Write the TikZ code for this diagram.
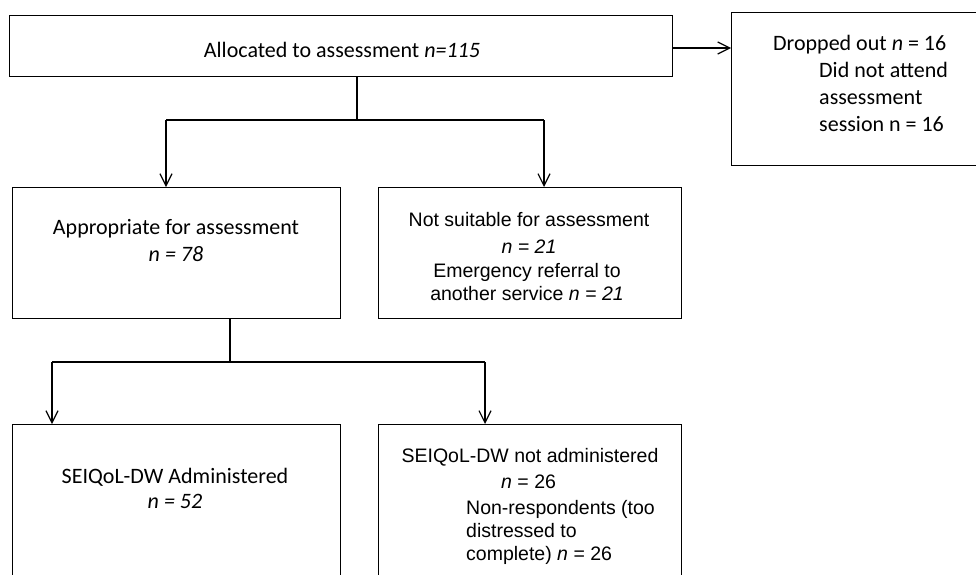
\documentclass[tikz,border=0pt]{standalone}
\usepackage{fontspec}
\setmainfont{Carlito}
\newfontfamily\arialf{Liberation Sans}
\usetikzlibrary{arrows.meta}
\begin{document}
\begin{tikzpicture}[x=1pt,y=-1pt,
  box/.style={draw, line width=1.2pt, rectangle, inner sep=0pt, anchor=north west},
  cal/.style={font=\fontsize{22}{27}\selectfont, inner sep=0pt},
  ari/.style={font=\arialf\fontsize{19.5}{24}\selectfont, inner sep=0pt},
  conn/.style={line width=1.2pt},
  arr/.style={conn, -{Straight Barb[length=12pt,width=12pt,line width=1.2pt]}}]
\useasboundingbox (0,0) rectangle (976,574);
% boxes
\node[box, minimum width=663pt, minimum height=61pt] (top) at (9,15) {};
\node[box, minimum width=250pt, minimum height=153pt] (drop) at (731,12) {};
\node[box, minimum width=328pt, minimum height=131pt] (appr) at (12,187) {};
\node[box, minimum width=303pt, minimum height=131pt] (nots) at (378,187) {};
\node[box, minimum width=328pt, minimum height=160pt] (adm) at (12,424) {};
\node[box, minimum width=303pt, minimum height=160pt] (nadm) at (378,424) {};
% texts
\node[cal, anchor=base] (ttop) at (342,57) {Allocated to assessment \textit{n=115}};
\node[cal, anchor=base west] (td1) at (773,50) {Dropped out \textit{n} = 16};
\node[cal, anchor=base west] (td2) at (819,77) {Did not attend};
\node[cal, anchor=base west] (td3) at (819,104) {assessment};
\node[cal, anchor=base west] (td4) at (819,131) {session n = 16};
\node[cal, anchor=base] (ta1) at (176,234) {Appropriate for assessment};
\node[cal, anchor=base] (ta2) at (176,261) {\textit{n = 78}};
\node[ari, anchor=base] (tn1) at (529,226) {Not suitable for assessment};
\node[ari, anchor=base] (tn2) at (529,253) {\textit{n = 21}};
\node[ari, anchor=base] (tn3) at (527,277) {Emergency referral to};
\node[ari, anchor=base] (tn4) at (527,300) {another service \textit{n = 21}};
\node[cal, anchor=base] (ts1) at (175,483) {SEIQoL-DW Administered};
\node[cal, anchor=base] (ts2) at (175,508) {\textit{n = 52}};
\node[ari, anchor=base] (tx1) at (530,462) {SEIQoL-DW not administered};
\node[ari, anchor=base west] (tx2) at (501,488) {\textit{n} = 26};
\node[ari, anchor=base west] (tx3) at (466,514) {Non-respondents (too};
\node[ari, anchor=base west] (tx4) at (466,537) {distressed to};
\node[ari, anchor=base west] (tx5) at (466,560) {complete) \textit{n} = 26};
% connectors
\draw[arr] (top.east |- 0,48) -- (drop.west |- 0,48);
\coordinate (j1) at (357,120);
\coordinate (b1) at (166,120);
\coordinate (b2) at (544,120);
\draw[conn] (top.south -| j1) -- (j1);
\draw[conn] (b1) -- (b2);
\draw[arr] (b1) -- (b1 |- appr.north);
\draw[arr] (b2) -- (b2 |- nots.north);
\coordinate (j2) at (230,362);
\coordinate (c1) at (52,362);
\coordinate (c2) at (485,362);
\draw[conn] (appr.south -| j2) -- (j2);
\draw[conn] (c1) -- (c2);
\draw[arr] (c1) -- (c1 |- adm.north);
\draw[arr] (c2) -- (c2 |- nadm.north);
\end{tikzpicture}
\end{document}
